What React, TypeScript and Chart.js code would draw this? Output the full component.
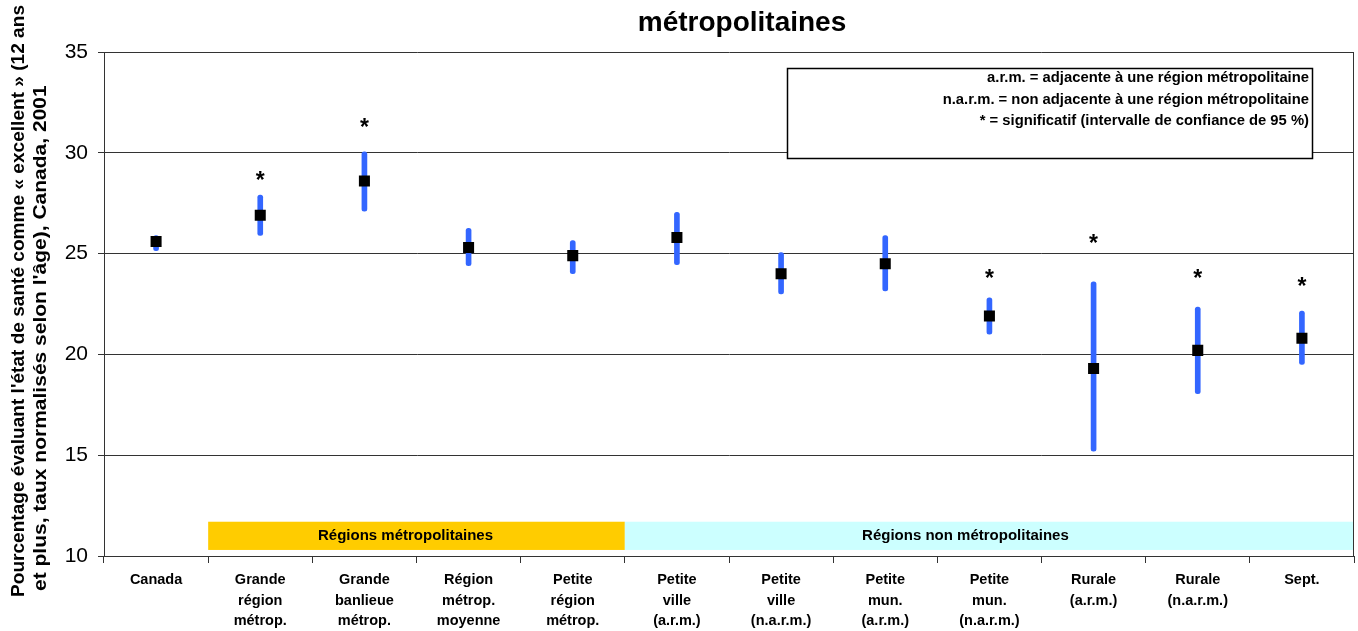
import React, { useEffect, useRef } from "react";
import { Chart, registerables } from "chart.js";

Chart.register(...registerables);

const FONT = "'Liberation Sans', Arial, Helvetica, sans-serif";

const categories: string[][] = [
  ["Canada"],
  ["Grande", "région", "métrop."],
  ["Grande", "banlieue", "métrop."],
  ["Région", "métrop.", "moyenne"],
  ["Petite", "région", "métrop."],
  ["Petite", "ville", "(a.r.m.)"],
  ["Petite", "ville", "(n.a.r.m.)"],
  ["Petite", "mun.", "(a.r.m.)"],
  ["Petite", "mun.", "(n.a.r.m.)"],
  ["Rurale", "(a.r.m.)"],
  ["Rurale", "(n.a.r.m.)"],
  ["Sept."],
];

const estimates = [25.6, 26.9, 28.6, 25.3, 24.9, 25.8, 24.0, 24.5, 21.9, 19.3, 20.2, 20.8];
const ciLow = [25.15, 25.9, 27.1, 24.4, 24.0, 24.45, 23.0, 23.15, 21.0, 15.2, 18.05, 19.5];
const ciHigh = [25.9, 27.9, 30.05, 26.25, 25.65, 27.05, 25.05, 25.9, 22.8, 23.6, 22.35, 22.15];
// height (in axis units) at which the "*" significance mark is written; null = not significant
const starLevel: (number | null)[] = [null, 28.95, 31.6, null, null, null, null, null, 24.1, 25.8, 24.1, 23.7];

const yTicks = [10, 15, 20, 25, 30, 35];

const groupLabels = ["Régions métropolitaines", "Régions non métropolitaines"];
const groupFrom = [1, 5];
const groupTo = [4, 11];
const groupColors = ["#FFCC00", "#CCFFFF"];
const groupBandLow = 10.3;
const groupBandHigh = 11.7;

const titleText = "métropolitaines";
const yTitleLines = [
  "Pourcentage évaluant l'état de santé comme « excellent » (12 ans",
  "et plus, taux normalisés selon l'âge), Canada, 2001",
];
const legendLines = [
  "a.r.m. = adjacente à une région métropolitaine",
  "n.a.r.m. = non adjacente à une région métropolitaine",
  "* = significatif (intervalle de confiance de 95 %)",
];

const groupTextShift = [-11, -24];

const noPadding = () => ({ left: 0, top: 0, right: 0, bottom: 0 });

const decorPlugin = {
  id: "decor",
  beforeDatasetsDraw(chart: any) {
    const { ctx, scales } = chart;
    const x = scales.x;
    const y = scales.y;
    const half = (x.getPixelForValue(1) - x.getPixelForValue(0)) / 2;
    const top = y.getPixelForValue(groupBandHigh);
    const bot = y.getPixelForValue(groupBandLow);
    ctx.save();
    for (let g = 0; g < groupLabels.length; g++) {
      const left = x.getPixelForValue(groupFrom[g]) - half;
      const right = x.getPixelForValue(groupTo[g]) + half;
      ctx.fillStyle = groupColors[g];
      ctx.fillRect(left, top, right - left, bot - top);
      ctx.fillStyle = "#000";
      ctx.font = `bold 15px ${FONT}`;
      ctx.textAlign = "center";
      ctx.textBaseline = "middle";
      ctx.fillText(groupLabels[g], (left + right) / 2 + groupTextShift[g], (top + bot) / 2);
    }
    ctx.restore();
  },
  afterDatasetsDraw(chart: any) {
    const { ctx, scales } = chart;
    ctx.save();
    ctx.fillStyle = "#000";
    ctx.font = `bold 23px ${FONT}`;
    ctx.textAlign = "center";
    ctx.textBaseline = "alphabetic";
    starLevel.forEach((lv, i) => {
      if (lv == null) return;
      const px = scales.x.getPixelForValue(i);
      const py = scales.y.getPixelForValue(lv);
      ctx.fillText("*", px, py + 14);
    });
    ctx.restore();
  },
  afterDraw(chart: any) {
    const { ctx, chartArea } = chart;
    ctx.save();
    // right border of plot area
    ctx.strokeStyle = "#333";
    ctx.lineWidth = 1;
    ctx.beginPath();
    ctx.moveTo(Math.round(chartArea.right) - 0.5, chartArea.top);
    ctx.lineTo(Math.round(chartArea.right) - 0.5, chartArea.bottom);
    ctx.stroke();

    // title (last line visible)
    ctx.fillStyle = "#000";
    ctx.font = `bold 28px ${FONT}`;
    ctx.textAlign = "center";
    ctx.textBaseline = "alphabetic";
    ctx.fillText(titleText, 742, 31);

    // y axis title
    ctx.font = `bold 21px ${FONT}`;
    ctx.textAlign = "left";
    ctx.textBaseline = "middle";
    const ys = [[19, 597, 592], [41, 591, 512]];
    yTitleLines.forEach((line, i) => {
      ctx.save();
      ctx.translate(ys[i][0], ys[i][1]);
      ctx.rotate(-Math.PI / 2);
      ctx.scale(1, 0.85);
      ctx.fillText(line, 0, 0, ys[i][2]);
      ctx.restore();
    });

    // legend/note box
    ctx.fillStyle = "#fff";
    ctx.fillRect(787, 68, 526, 90);
    ctx.strokeStyle = "#000";
    ctx.lineWidth = 1.5;
    ctx.strokeRect(787.5, 68.5, 525, 90);
    ctx.fillStyle = "#000";
    ctx.font = `bold 14.8px ${FONT}`;
    ctx.textAlign = "right";
    ctx.textBaseline = "middle";
    legendLines.forEach((t, i) => {
      ctx.fillText(t, 1309, 78 + i * 21.5);
    });
    ctx.restore();
  },
};

export default function App() {
  const ref = useRef<HTMLCanvasElement | null>(null);
  useEffect(() => {
    document.body.style.margin = "0";
    if (!ref.current) return;
    const chart = new Chart(ref.current, {
      type: "bar",
      data: {
        labels: categories,
        datasets: [
          {
            type: "line",
            label: "Estimation",
            data: estimates,
            showLine: false,
            pointStyle: "rect",
            pointRadius: 7.8,
            pointBackgroundColor: "#000",
            pointBorderColor: "#000",
            pointBorderWidth: 0,
            order: 0,
          } as any,
          {
            type: "bar",
            label: "IC 95 %",
            data: ciLow.map((l, i) => [l, ciHigh[i]]),
            backgroundColor: "#3366FF",
            barThickness: 5,
            borderRadius: 3,
            borderSkipped: false,
            order: 1,
          } as any,
        ],
      },
      options: {
        responsive: false,
        animation: false,
        layout: { autoPadding: false, padding: { top: 52, right: 4, left: 0, bottom: 0 } },
        plugins: {
          legend: { display: false },
          tooltip: { enabled: false },
          title: { display: false },
        },
        scales: {
          x: {
            offset: true,
            grid: {
              offset: true,
              drawOnChartArea: false,
              drawTicks: true,
              tickLength: 7,
              color: "#333",
            },
            border: { color: "#333", width: 1 },
            ticks: {
              color: "#000",
              font: { family: FONT, size: 14.5, weight: "bold", lineHeight: 1.42 },
              padding: 7,
              maxRotation: 0,
              autoSkip: false,
            },
            afterFit: (s: any) => {
              s.height = 75;
              s.paddingRight = 0;
              s.paddingLeft = 0;
              s.getPadding = noPadding;
            },
          },
          y: {
            min: 10,
            max: 35,
            afterBuildTicks: (s: any) => {
              s.ticks = yTicks.map((v) => ({ value: v }));
            },
            ticks: {
              color: "#000",
              font: { family: FONT, size: 21 },
              padding: 10,
            },
            grid: { color: "#333", lineWidth: 1, tickLength: 6, drawTicks: true },
            border: { color: "#333", width: 1 },
            afterFit: (s: any) => {
              s.width = 104;
              s.getPadding = noPadding;
            },
          },
        },
      },
      plugins: [decorPlugin],
    });
    return () => chart.destroy();
  }, []);
  return (
    <div style={{ position: "fixed", left: 0, top: 0, width: 1358, height: 631, background: "#fff" }}>
      <canvas ref={ref} width={1358} height={631} />
    </div>
  );
}
